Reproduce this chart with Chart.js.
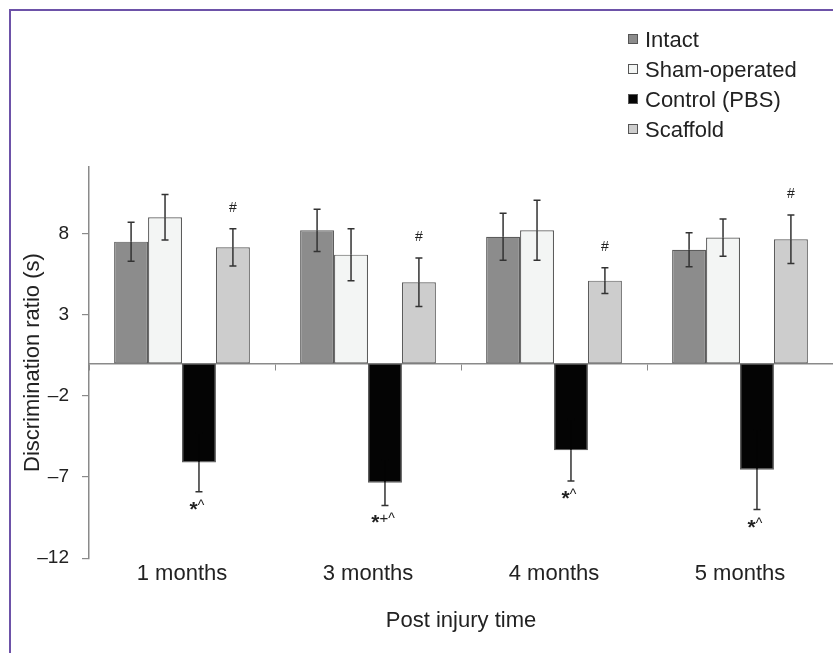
<!DOCTYPE html>
<html>
<head>
<meta charset="utf-8">
<script src="https://cdn.jsdelivr.net/npm/chart.js@4.4.1/dist/chart.umd.min.js"></script>
<style>
  html, body { margin: 0; padding: 0; background: #fff; }
  #wrap { position: relative; width: 833px; height: 653px; overflow: hidden; }
  #frame { position: absolute; left: 9px; top: 9px; width: 900px; height: 700px;
           border-left: 2px solid #6d52a8; border-top: 2px solid #6d52a8;
           box-sizing: border-box; pointer-events: none; }
  canvas { position: absolute; left: 0; top: 0; }
</style>
</head>
<body>
<div id="wrap">
  <canvas id="chart" width="833" height="653"></canvas>
  <div id="frame"></div>
</div>
<script>
// Time points after injury
const categories = ['1 months', '3 months', '4 months', '5 months'];

// Group means (s)
const intact   = [7.5, 8.2, 7.8, 7.0];
const sham     = [9.0, 6.7, 8.2, 7.75];
const control  = [-6.1, -7.35, -5.35, -6.55];
const scaffold = [7.15, 5.0, 5.1, 7.65];

// Standard errors
const intactErr   = [1.2, 1.3, 1.45, 1.05];
const shamErr     = [1.4, 1.6, 1.85, 1.15];
const controlErr  = [1.8, 1.4, 1.9, 2.45];
const scaffoldErr = [1.15, 1.5, 0.8, 1.5];

// Significance marks
const controlMarks  = ['*^', '*+^', '*^', '*^'];
const scaffoldMarks = ['#', '#', '#', '#'];

// Value-axis ticks
const yTicks = [8, 3, -2, -7, -12];

const FONT = '"Liberation Sans", Arial, Helvetica, sans-serif';
Chart.defaults.font.family = FONT;
Chart.defaults.color = '#222';

// Whiskers at mean ± error; the half lying inside a bar takes the bar's fill when it is dark
const errorBars = {
  id: 'errorBars',
  afterDatasetsDraw(chart) {
    const { ctx } = chart;
    const y = chart.scales.y;
    ctx.save();
    ctx.lineWidth = 1.5;
    const seg = (x, yMid, yEnd, color) => {
      ctx.strokeStyle = color;
      ctx.beginPath();
      ctx.moveTo(x, yMid); ctx.lineTo(x, yEnd);
      ctx.moveTo(x - 3.5, yEnd); ctx.lineTo(x + 3.5, yEnd);
      ctx.stroke();
    };
    chart.data.datasets.forEach((ds, d) => {
      const meta = chart.getDatasetMeta(d);
      meta.data.forEach((bar, i) => {
        const v = ds.data[i], e = ds.errors[i];
        const yv = y.getPixelForValue(v);
        const yOut = y.getPixelForValue(v >= 0 ? v + e : v - e);
        const yIn = y.getPixelForValue(v >= 0 ? v - e : v + e);
        const inner = ds.innerWhisker || '#333';
        seg(bar.x, yv, yOut, '#333');
        seg(bar.x, yv, yIn, inner);
      });
    });
    ctx.restore();
  }
};

// Significance symbols beyond the whisker ends
const sigMarks = {
  id: 'sigMarks',
  afterDatasetsDraw(chart) {
    const { ctx } = chart;
    const y = chart.scales.y;
    ctx.save();
    ctx.fillStyle = '#222';
    ctx.textBaseline = 'alphabetic';
    chart.data.datasets.forEach((ds, d) => {
      if (!ds.marks) return;
      const meta = chart.getDatasetMeta(d);
      meta.data.forEach((bar, i) => {
        const v = ds.data[i], e = ds.errors[i];
        const text = ds.marks[i];
        if (v >= 0) {
          ctx.font = `14px ${FONT}`;
          ctx.textAlign = 'center';
          ctx.fillText(text, bar.x, y.getPixelForValue(v + e) - 17);
        } else {
          const base = y.getPixelForValue(v - e) + 24;
          const parts = [...text].map(ch => {
            if (ch === '*') return { ch, font: `bold 21px ${FONT}`, dy: 0 };
            if (ch === '+') return { ch, font: `15px ${FONT}`, dy: -6 };
            return { ch, font: `14px ${FONT}`, dy: -6 };
          });
          let total = 0;
          parts.forEach(p => { ctx.font = p.font; p.w = ctx.measureText(p.ch).width; total += p.w; });
          let x = bar.x - total / 2 - 2;
          ctx.textAlign = 'left';
          parts.forEach(p => {
            ctx.font = p.font;
            ctx.fillText(p.ch, x, base + p.dy);
            x += p.w;
          });
        }
      });
    });
    ctx.restore();
  }
};

// One-item-per-row legend built from the datasets
const stackedLegend = {
  id: 'stackedLegend',
  afterDraw(chart, args, opts) {
    const { ctx } = chart;
    ctx.save();
    ctx.font = `22px ${FONT}`;
    ctx.textBaseline = 'middle';
    ctx.textAlign = 'left';
    chart.data.datasets.forEach((ds, i) => {
      const cy = opts.top + i * opts.rowHeight;
      ctx.fillStyle = ds.backgroundColor;
      ctx.fillRect(opts.left, cy - 6, 10, 10);
      ctx.strokeStyle = '#555';
      ctx.lineWidth = 1;
      ctx.strokeRect(opts.left + 0.5, cy - 5.5, 9, 9);
      ctx.fillStyle = '#222';
      ctx.fillText(ds.label, opts.left + 17, cy + 1);
    });
    ctx.restore();
  }
};

const barStyle = {
  borderColor: '#5c5c5c',
  borderWidth: 1.2,
  borderSkipped: false,
  categoryPercentage: 0.73,
  barPercentage: 1.0
};

new Chart(document.getElementById('chart'), {
  type: 'bar',
  data: {
    labels: categories,
    datasets: [
      { label: 'Intact', data: intact, errors: intactErr, backgroundColor: '#8c8c8c', ...barStyle },
      { label: 'Sham-operated', data: sham, errors: shamErr, backgroundColor: '#f3f5f4', ...barStyle },
      { label: 'Control (PBS)', data: control, errors: controlErr, marks: controlMarks, innerWhisker: '#040404', backgroundColor: '#040404', ...barStyle },
      { label: 'Scaffold', data: scaffold, errors: scaffoldErr, marks: scaffoldMarks, backgroundColor: '#cdcdcd', ...barStyle }
    ]
  },
  options: {
    responsive: false,
    animation: false,
    layout: { padding: { top: 167, left: 10, right: 0, bottom: 19 } },
    plugins: {
      legend: { display: false },
      tooltip: { enabled: false },
      stackedLegend: { left: 628, top: 40, rowHeight: 30 }
    },
    scales: {
      x: {
        type: 'category',
        position: { y: 0 },
        offset: true,
        grid: { offset: true, drawOnChartArea: false, drawTicks: true, tickLength: 6, color: '#8a8a8a', lineWidth: 1 },
        border: { color: '#8a8a8a', width: 1.5 },
        ticks: { display: false }
      },
      x2: {
        type: 'category',
        position: 'bottom',
        labels: categories,
        offset: true,
        grid: { display: false, drawTicks: false },
        border: { display: false },
        ticks: { padding: 3, color: '#222', font: { size: 22 } },
        title: { display: true, text: 'Post injury time', color: '#222', font: { size: 22 }, padding: { top: 17, bottom: 0 } }
      },
      y: {
        min: -12,
        max: 12.1,
        afterBuildTicks: s => { s.ticks = yTicks.map(v => ({ value: v })); },
        afterFit: s => { s.width = 79; },
        grid: { drawOnChartArea: false, tickLength: 7, color: '#8a8a8a', lineWidth: 1.2 },
        border: { color: '#8a8a8a', width: 1.5 },
        ticks: {
          padding: 13, color: '#222', font: { size: 19 },
          callback: v => (v < 0 ? '\u2013' + Math.abs(v) : String(v))
        },
        title: { display: true, text: 'Discrimination ratio (s)', color: '#222', font: { size: 22 }, padding: { top: 10, bottom: 0 } }
      }
    }
  },
  plugins: [errorBars, sigMarks, stackedLegend]
});
</script>
</body>
</html>
